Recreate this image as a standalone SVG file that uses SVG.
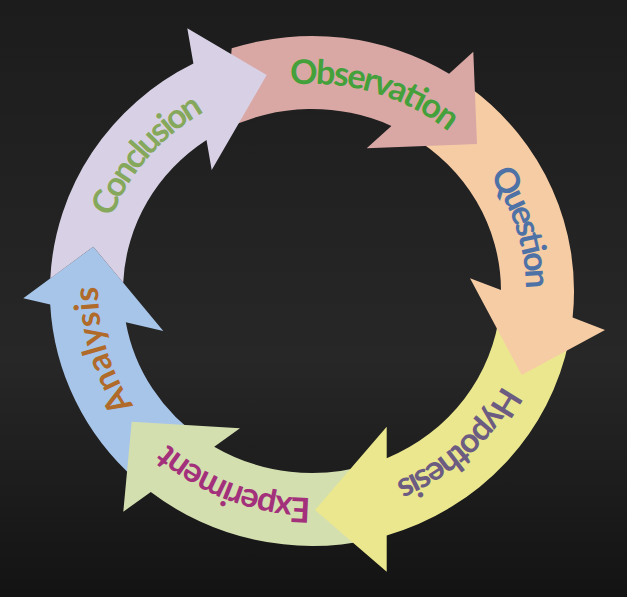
<svg xmlns="http://www.w3.org/2000/svg" width="627" height="597" viewBox="0 0 627 597">
<defs>
<linearGradient id="bg" x1="0" y1="0" x2="0" y2="1">
<stop offset="0" stop-color="#1c1c1c"/>
<stop offset="0.6" stop-color="#272727"/>
<stop offset="1" stop-color="#131313"/>
</linearGradient>
<path id="tp-con" d="M 98 291 A 214 207 0 0 1 274.8 87.1"/>
<path id="tp-obs" d="M 228.7 100.3 A 214 207 0 0 1 491.7 178.6"/>
<path id="tp-que" d="M 428.2 117.2 A 214 207 0 0 1 509.1 371.5"/>
<path id="tp-hyp" d="M 524.5 315.5 A 214 207 0 0 1 323.9 497.7"/>
<path id="tp-exp" d="M 379.9 487.3 A 214 207 0 0 1 123.9 389.8"/>
<path id="tp-ana" d="M 192.3 462.6 A 214 207 0 0 1 116.5 206.8"/>
</defs>
<style>
.lbl { font-family: Lato, "Open Sans", "Liberation Sans", sans-serif; font-weight: 700; font-size: 34px; }
</style>
<rect x="0" y="0" width="627" height="597" fill="url(#bg)"/>
<g id="connectors"/>
<g id="analysis">
<path d="M 136.1 480 A 262 255 0 0 1 50.2 304.6 L 23.3 298.3 L 93.3 246.7 L 163.3 331 L 125.8 322.2 A 189 182 0 0 0 203.5 440 Z" fill="#a7c5e9"/>
<text class="lbl" fill="#b06a2a"><textPath href="#tp-ana" startOffset="50%" text-anchor="middle" textLength="126" lengthAdjust="spacing">Analysis</textPath></text>
</g>
<g id="experiment">
<path d="M 370 539.7 A 262 255 0 0 1 150.8 492 L 123.3 511.7 L 131.7 421.7 L 240 428.3 L 214.2 446.7 A 189 182 0 0 0 370 464.2 Z" fill="#d4dfb0"/>
<text class="lbl" fill="#a3307b"><textPath href="#tp-exp" startOffset="50%" text-anchor="middle" textLength="156" lengthAdjust="spacing">Experiment</textPath></text>
</g>
<g id="hypothesis">
<path d="M 569.1 340 A 262 255 0 0 1 386.7 535.4 L 386.7 571.7 L 315 510 L 386.7 426.7 L 386.7 458.2 A 189 182 0 0 0 500 310 Z" fill="#ebe78e"/>
<text class="lbl" fill="#6c5c82"><textPath href="#tp-hyp" startOffset="50%" text-anchor="middle" textLength="147" lengthAdjust="spacing">Hypothesis</textPath></text>
</g>
<g id="question">
<path d="M 470 87.6 A 262 255 0 0 1 572.6 317.6 L 605 330 L 521.7 375 L 470 278.3 L 501 290.1 A 189 182 0 0 0 410 135.4 Z" fill="#f6cca5"/>
<text class="lbl" fill="#4e72a6"><textPath href="#tp-que" startOffset="50%" text-anchor="middle" textLength="121" lengthAdjust="spacing">Question</textPath></text>
</g>
<g id="observation">
<path d="M 231.7 48.3 A 262 255 0 0 1 449.1 73.7 L 473.3 51.7 L 477 144 L 366.7 148.3 L 391.4 125.9 A 189 182 0 0 0 225 129.4 Z" fill="#d9a8a5"/>
<text class="lbl" fill="#43a03a"><textPath href="#tp-obs" startOffset="50%" text-anchor="middle" textLength="169" lengthAdjust="spacing">Observation</textPath></text>
</g>
<g id="conclusion">
<path d="M 50.3 278.4 A 262 255 0 0 1 193.4 63.6 L 187.3 28.3 L 266.7 75 L 211.7 170 L 206.5 140 A 189 182 0 0 0 123.2 282.7 L 93.3 246.7 Z" fill="#d8d1e5"/>
<text class="lbl" fill="#86a85c"><textPath href="#tp-con" startOffset="50%" text-anchor="middle" textLength="143" lengthAdjust="spacing">Conclusion</textPath></text>
</g>
</svg>
